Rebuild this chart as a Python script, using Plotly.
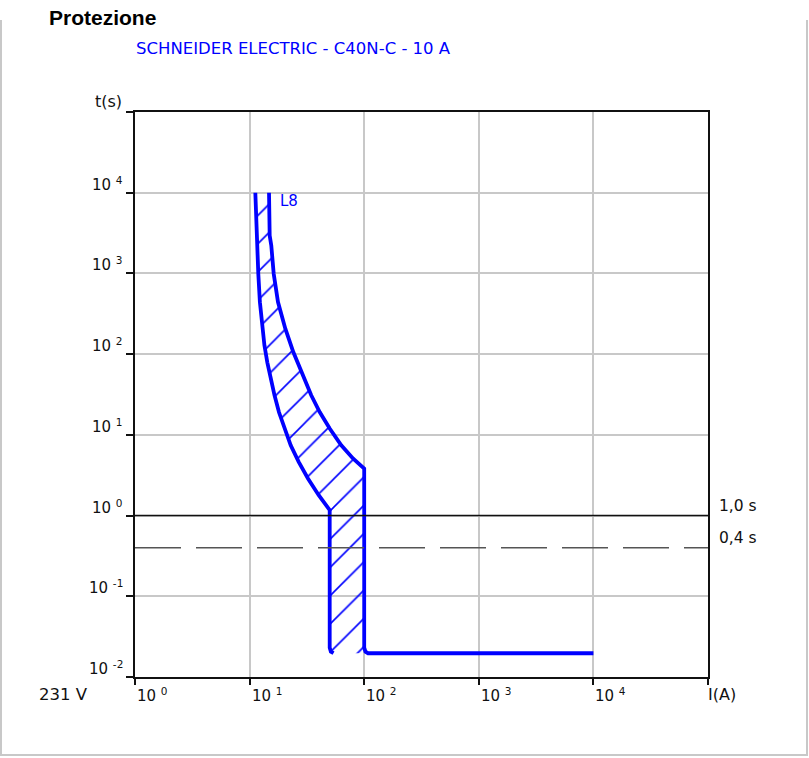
import math
import plotly.graph_objects as go

# Minimum-trip (left) and maximum-trip (right) boundaries of the C40N-C 10 A curve
left_current = [11.22, 11.37, 11.68, 11.91, 12.30, 12.88, 13.47, 14.27, 15.25, 16.50, 18.05, 20.04,
                22.84, 26.81, 32.3, 40.1, 49.0, 50.0, 50.0, 51.2, 54.0]
left_time = [10000, 4753, 1837, 991, 441, 207, 128.5, 79.2, 50.2, 30.9, 19.05, 12.07,
             7.43, 4.62, 2.88, 1.79, 1.22, 1.17, 0.0231, 0.0206, 0.0197]

right_current = [14.77, 14.97, 15.46, 16.23, 17.69, 20.5, 24.06, 26.1, 29.8, 34.5, 40.9, 50.0,
                 63.1, 79.8, 100.0, 100.0, 102.5, 108.0, 10000]
right_time = [10000, 2951, 2221, 991, 441, 207, 106, 79.8, 49.8, 30.9, 19.2, 11.97,
              7.43, 5.09, 3.83, 0.0231, 0.0206, 0.0197, 0.0197]

# Reference trip times
ref_times = [1.0, 0.4]
ref_labels = ["1,0 s", "0,4 s"]

x_ticks = [1, 10, 100, 1000, 10000]
x_tick_labels = ["10 <sup>0</sup>", "10 <sup>1</sup>", "10 <sup>2</sup>", "10 <sup>3</sup>", "10 <sup>4</sup>"]
y_ticks = [0.01, 0.1, 1, 10, 100, 1000, 10000]
y_tick_labels = ["10 <sup>-2</sup>", "10 <sup>-1</sup>", "10 <sup>0</sup>", "10 <sup>1</sup>",
                 "10 <sup>2</sup>", "10 <sup>3</sup>", "10 <sup>4</sup>"]

title_text = "SCHNEIDER ELECTRIC - C40N-C - 10 A"
curve_name = "L8"

W, H = 809, 758
ML, MR, MT, MB = 135, 101, 112, 81
PW, PH = W - ML - MR, H - MT - MB


def px(x):
    return (x - ML) / PW


def py(y):
    return (H - MB - y) / PH


BLUE = "#0000ff"
FONT = "DejaVu Sans, Verdana, sans-serif"

fig = go.Figure()

# Hatched band between the two boundaries
band_x = left_current + right_current[:-1][::-1]
band_y = left_time + right_time[:-1][::-1]
fig.add_trace(go.Scatter(
    x=band_x, y=band_y, mode="lines", fill="toself",
    line=dict(width=0, color="rgba(0,0,0,0)"),
    fillcolor="rgba(0,0,0,0)",
    fillpattern=dict(shape="/", size=20, solidity=0.08, fgcolor=BLUE, fgopacity=1,
                     bgcolor="rgba(0,0,0,0)"),
    hoverinfo="skip", showlegend=False,
))

for xs, ys in [(left_current, left_time), (right_current, right_time)]:
    fig.add_trace(go.Scatter(
        x=xs, y=ys, mode="lines",
        line=dict(color=BLUE, width=3.8, shape="linear"),
        showlegend=False, hoverinfo="skip",
    ))

# Reference time lines
fig.add_hline(y=ref_times[0], line=dict(color="#111111", width=1.5))
fig.add_hline(y=ref_times[1], line=dict(color="#555555", width=1.5, dash="46px,15px"))

fig.update_xaxes(
    type="log", range=[0, 5],
    tickvals=x_ticks + [100000], showticklabels=False,
    ticks="outside", ticklen=6, tickwidth=2, tickcolor="#111111",
    showgrid=True, gridcolor="#c8c8c8", gridwidth=1.5,
    showline=True, linecolor="#111111", linewidth=2, mirror=True,
    zeroline=False,
)
fig.update_yaxes(
    type="log", range=[-2, 5],
    tickvals=y_ticks + [100000], showticklabels=False,
    ticks="outside", ticklen=7, tickwidth=2, tickcolor="#111111",
    showgrid=True, gridcolor="#c8c8c8", gridwidth=1.5,
    showline=True, linecolor="#111111", linewidth=2, mirror=True,
    zeroline=False,
)

ann = []
tick_font = dict(family=FONT, size=15, color="#111111")
for v, lab in zip(x_ticks, x_tick_labels):
    ann.append(dict(x=math.log10(v), y=0, xref="x", yref="paper", text=lab,
                    xanchor="left", yanchor="top", yshift=-6,
                    showarrow=False, font=tick_font))
for v, lab in zip(y_ticks, y_tick_labels):
    ann.append(dict(x=px(125), y=math.log10(v), xref="paper", yref="y", text=lab,
                    xanchor="right", yanchor="bottom", yshift=-3,
                    showarrow=False, font=tick_font))

# Axis captions
ann.append(dict(x=px(124), y=py(113), xref="paper", yref="paper", text="t(s)",
                xanchor="right", yanchor="bottom", showarrow=False,
                font=dict(family=FONT, size=16, color="#111111")))
ann.append(dict(x=px(706), y=0, xref="paper", yref="paper", text="I(A)",
                xanchor="left", yanchor="top", yshift=-6, showarrow=False,
                font=dict(family=FONT, size=16, color="#111111")))
ann.append(dict(x=px(90), y=0, xref="paper", yref="paper", text="231 V",
                xanchor="right", yanchor="top", yshift=-6, showarrow=False,
                font=dict(family=FONT, size=16.5, color="#111111")))

# Reference time labels
for v, lab in zip(ref_times, ref_labels):
    ann.append(dict(x=px(717), y=math.log10(v), xref="paper", yref="y", text=lab,
                    xanchor="left", yanchor="bottom", yshift=-1,
                    showarrow=False, font=dict(family=FONT, size=15.5, color="#111111")))

# Curve label
ann.append(dict(x=math.log10(17.6), y=math.log10(7900), xref="x", yref="y", text=curve_name,
                xanchor="left", yanchor="middle", showarrow=False,
                font=dict(family=FONT, size=15, color=BLUE)))

# Device title and panel caption
ann.append(dict(x=px(134), y=py(48), xref="paper", yref="paper", text=title_text,
                xanchor="left", yanchor="middle", showarrow=False,
                font=dict(family=FONT, size=16.5, color=BLUE)))
ann.append(dict(x=px(47), y=py(18), xref="paper", yref="paper", text="<b>Protezione</b>",
                xanchor="left", yanchor="middle", showarrow=False,
                font=dict(family="Liberation Sans, Arial, sans-serif", size=21, color="#000000")))

# Panel frame with a gap for the caption
frame = dict(color="#c8c8c8", width=2)
shapes = [
    dict(type="line", xref="paper", yref="paper", x0=px(0), x1=px(40), y0=py(20), y1=py(20), line=frame),
    dict(type="line", xref="paper", yref="paper", x0=px(175), x1=px(808), y0=py(20), y1=py(20), line=frame),
    dict(type="line", xref="paper", yref="paper", x0=px(1), x1=px(1), y0=py(20), y1=py(756), line=frame),
    dict(type="line", xref="paper", yref="paper", x0=px(807), x1=px(807), y0=py(20), y1=py(756), line=frame),
    dict(type="line", xref="paper", yref="paper", x0=px(0), x1=px(808), y0=py(755), y1=py(755), line=frame),
]

fig.update_layout(
    width=W, height=H, autosize=False,
    margin=dict(l=ML, r=MR, t=MT, b=MB),
    paper_bgcolor="white", plot_bgcolor="white",
    annotations=ann, shapes=shapes,
    showlegend=False,
)

fig.write_html("out.html")
